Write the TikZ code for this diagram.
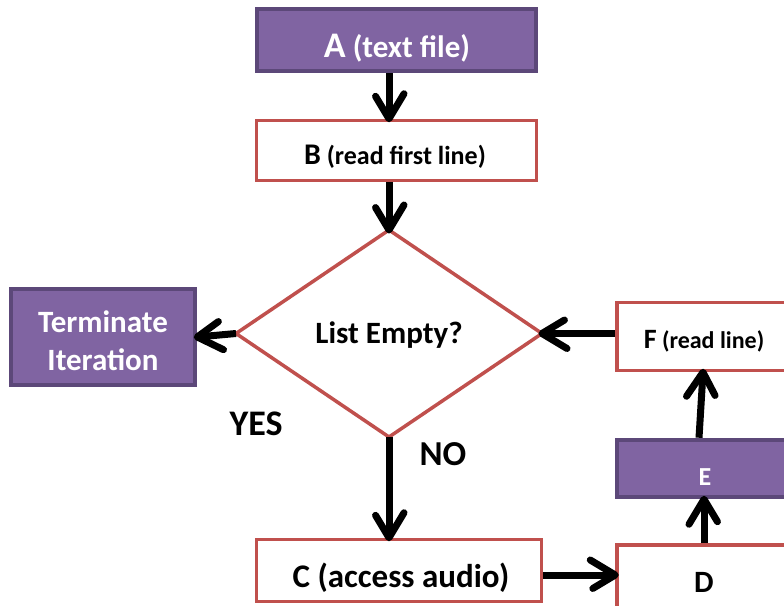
\documentclass[tikz,border=0pt]{standalone}
\usepackage{fontspec}
\setmainfont{Carlito}
\usetikzlibrary{shapes.geometric,decorations.markings}
\definecolor{purfill}{HTML}{8064A2}
\definecolor{purline}{HTML}{5C4879}
\definecolor{redline}{HTML}{C0504D}
\newcommand{\fsz}[1]{\fontsize{#1}{1.2\dimexpr#1pt\relax}\selectfont}
\begin{document}
\begin{tikzpicture}[x=1pt,y=-1pt,
  purbox/.style={draw=purline, fill=purfill, line width=4.5pt, inner sep=0pt},
  redbox/.style={draw=redline, fill=white, line width=3.5pt, inner sep=0pt},
  lbl/.style={anchor=base, inner sep=0pt, font=\bfseries},
  arr/.style={line width=7pt, black, shorten >=3pt,
    postaction={decorate, decoration={markings, mark=at position 1 with {
      \draw[line width=7pt, line cap=round, line join=round, black]
        (-25pt,15pt) -- (0pt,0pt) -- (-25pt,-15pt);}}}}]
\useasboundingbox (0,0) rectangle (784,605);
\clip (0,0) rectangle (784,605);
% boxes
\node[purbox, minimum width=279pt, minimum height=62pt] (a) at (396.5,40) {};
\node[redbox, minimum width=280pt, minimum height=60pt] (b) at (396.5,150.5) {};
\node[diamond, draw=redline, fill=white, line width=3.5pt, inner sep=0pt, outer sep=0pt,
      minimum width=306pt, minimum height=207pt] (d) at (389,333.5) {};
\node[purbox, minimum width=184pt, minimum height=96pt] (t) at (103,337) {};
\node[redbox, minimum width=183pt, minimum height=68pt] (f) at (708.5,336.5) {};
\node[purbox, minimum width=183pt, minimum height=57pt] (e) at (708.5,468.5) {};
\node[redbox, minimum width=183pt, minimum height=80pt] (dd) at (708.5,585) {};
\node[redbox, minimum width=285pt, minimum height=62pt] (c) at (399,570.5) {};
% texts
\node[lbl, text=white] (ta) at (397,57) {\fsz{36}A\fsz{31} (text file)};
\node[lbl] (tb) at (395,164) {\fsz{30}B\fsz{26} (read first line)};
\node[lbl] (td) at (389,343) {\fsz{31}List Empty?};
\node[lbl, text=white, align=center, font=\bfseries\fontsize{31}{38}\selectfont] (tt) at (103,370) {Terminate\\Iteration};
\node[lbl] (tf) at (704,348) {\fsz{28}F\fsz{24} (read line)};
\node[lbl, text=white] (te) at (705,485) {\fsz{26}E};
\node[lbl] (tdd) at (704,592) {\fsz{31}D};
\node[lbl] (tc) at (401,587) {\fsz{33}C (access audio)};
\node[lbl] (yes) at (256,435) {\fsz{36}YES};
\node[lbl] (no) at (443,465) {\fsz{35}NO};
% connectors
\draw[arr] (a.south -| d.north) -- (b.north -| d.north);
\draw[arr] (b.south -| d.north) -- (d.north);
\draw[arr] (d.west) -- (t.east);
\draw[arr] (f.west |- d.east) -- (d.east);
\draw[arr] (d.south) -- (c.north -| d.south);
\coordinate (cd) at ([yshift=-4.5pt]c.east);
\draw[arr] (cd) -- (cd -| dd.west);
\draw[arr] ([xshift=-4.5pt]dd.north) -- ([xshift=-4.5pt]e.south);
\draw[arr] ([xshift=-9.5pt]e.north) -- ([xshift=-5.5pt]f.south);
\end{tikzpicture}
\end{document}
